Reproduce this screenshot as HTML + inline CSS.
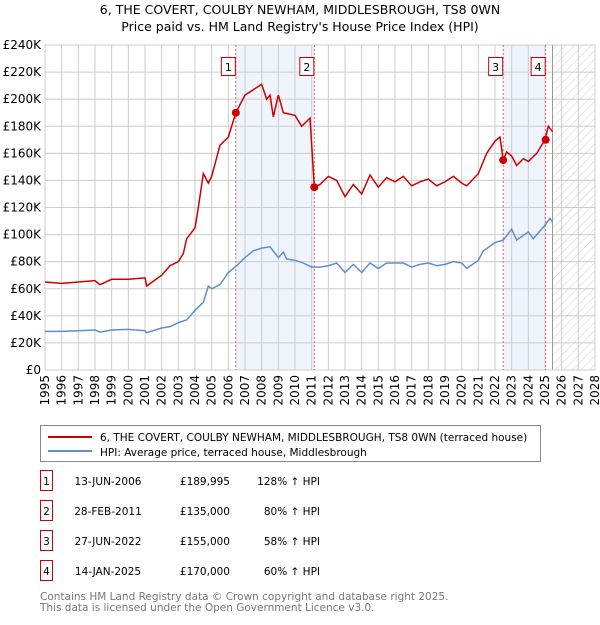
<!DOCTYPE html>
<html><head><meta charset="utf-8"><style>
body{margin:0;background:#fff;font-family:"Liberation Sans","DejaVu Sans",sans-serif;}
svg text{font-family:"DejaVu Sans","Liberation Sans",sans-serif;}
</style></head><body>
<svg id="c" width="600" height="620" viewBox="0 0 600 620" xmlns="http://www.w3.org/2000/svg">
<defs><pattern id="hatch" width="6" height="6" patternUnits="userSpaceOnUse" patternTransform="rotate(45)"><line x1="0" y1="0" x2="0" y2="6" stroke="#ccc" stroke-width="1"/></pattern></defs>
<text x="300" y="14" text-anchor="middle" font-size="12.5">6, THE COVERT, COULBY NEWHAM, MIDDLESBROUGH, TS8 0WN</text>
<text x="300" y="31" text-anchor="middle" font-size="12.5">Price paid vs. HM Land Registry's House Price Index (HPI)</text>
<g id="plot"></g>
<g>
<rect x="40.5" y="425.5" width="500" height="36" fill="#fff" stroke="#888"/>
<line x1="48" y1="437" x2="92" y2="437" stroke="#cc0000" stroke-width="2"/>
<text x="100" y="441" font-size="10.5">6, THE COVERT, COULBY NEWHAM, MIDDLESBROUGH, TS8 0WN (terraced house)</text>
<line x1="48" y1="451" x2="92" y2="451" stroke="#5b8fd0" stroke-width="2"/>
<text x="100" y="456" font-size="10.5">HPI: Average price, terraced house, Middlesbrough</text>
</g>
<g id="table" font-size="10.5"></g>
<text x="40" y="600" font-size="10.5" fill="#777">Contains HM Land Registry data © Crown copyright and database right 2025.</text>
<text x="40" y="611" font-size="10.5" fill="#777">This data is licensed under the Open Government Licence v3.0.</text>
</svg>
<script>
const hpiYears=[1995,1996,1997,1998,1998.3,1999,2000,2001,2001.1,2002,2002.5,2003,2003.5,2004,2004.5,2004.8,2005,2005.5,2006,2006.5,2007,2007.5,2008,2008.5,2009,2009.3,2009.5,2010,2010.5,2011,2011.5,2012,2012.5,2013,2013.5,2014,2014.5,2015,2015.5,2016,2016.5,2017,2017.5,2018,2018.5,2019,2019.5,2020,2020.3,2021,2021.3,2022,2022.5,2023,2023.3,2024,2024.3,2025,2025.3,2025.45];
const hpiValues=[28.5,28.5,29,29.5,28,29.5,30,29,27.5,31,32,35,37,44,50,62,60,63,72,77,83,88,90,91,83,87,82,81,79,76,76,77,79,72,78,72,79,75,79,79,79,76,78,79,77,78,80,79,75,81,88,94,96,104,96,102,97,107,112,109];
const priceYears=[1995,1996,1997,1998,1998.3,1999,2000,2001,2001.1,2002,2002.5,2003,2003.3,2003.5,2004,2004.2,2004.5,2004.8,2005,2005.5,2006,2006.45,2007,2007.5,2008,2008.3,2008.5,2008.7,2009,2009.3,2010,2010.4,2010.9,2011.16,2011.5,2012,2012.5,2013,2013.5,2014,2014.5,2015,2015.5,2016,2016.5,2017,2017.5,2018,2018.5,2019,2019.5,2020,2020.3,2021,2021.5,2022,2022.3,2022.49,2022.7,2023,2023.3,2023.7,2024,2024.5,2025,2025.2,2025.45];
const priceValues=[65,64,65,66,63,67,67,68,62,70,77,80,86,97,105,120,145,138,143,166,172,190,203,207,211,200,203,187,203,190,188,180,186,135,137,143,140,128,137,130,144,135,142,139,143,136,139,141,136,139,143,138,136,145,160,169,172,155,161,158,151,156,154,160,170,180,176];
const saleYears=[2006.45,2011.16,2022.49,2025.04];
const saleValues=[189.995,135,155,170];
const saleLabels=["1","2","3","4"];
const saleDates=["13-JUN-2006","28-FEB-2011","27-JUN-2022","14-JAN-2025"];
const salePrices=["£189,995","£135,000","£155,000","£170,000"];
const saleHpi=["128% ↑ HPI","80% ↑ HPI","58% ↑ HPI","60% ↑ HPI"];
const yTicks=[0,20,40,60,80,100,120,140,160,180,200,220,240];
const xStart=1995,xEnd=2028,dataEnd=2025.45;
const L=45,R=595,T=45,B=370;
const X=v=>L+(v-xStart)/(xEnd-xStart)*(R-L);
const Y=v=>B-v/240*(B-T);
const NS="http://www.w3.org/2000/svg";
const plot=document.getElementById('plot');
function mk(tag,attrs,parent){const e=document.createElementNS(NS,tag);for(const k in attrs)e.setAttribute(k,attrs[k]);(parent||plot).appendChild(e);return e;}
for(let i=0;i<saleYears.length;i+=2){
  const r=mk('rect',{x:X(saleYears[i]),y:T,width:X(saleYears[i+1])-X(saleYears[i]),height:B-T,fill:'#eef3fc'});
  
  
}
const h=mk('rect',{x:X(dataEnd),y:T,width:R-X(dataEnd),height:B-T,fill:'url(#hatch)'});


for(const t of yTicks){
  const l=mk('line',{x1:L,x2:R,y1:Y(t),y2:Y(t),stroke:'#ccc'});
  
  
  const tx=mk('text',{x:L-4,y:Y(t)+4,'text-anchor':'end','font-size':'12'});
  tx.textContent=t===0?'£0':'£'+t+'K';
  
  
}
for(let yr=xStart;yr<=xEnd;yr++){
  const l=mk('line',{x1:X(yr),x2:X(yr),y1:T,y2:B,stroke:'#ccc'});
  
  
  const tx=mk('text',{x:0,y:0,'text-anchor':'end','font-size':'12',transform:`translate(${X(yr)+4},${B+5}) rotate(-90)`});
  tx.textContent=yr;
  
  
}
const dl=mk('line',{x1:X(dataEnd),x2:X(dataEnd),y1:T,y2:B,stroke:'#999'});


const fr=mk('rect',{x:L,y:T,width:R-L,height:B-T,fill:'none',stroke:'#ccc'});


saleYears.forEach((s,i)=>{
  const l=mk('line',{x1:X(s),x2:X(s),y1:T,y2:B,stroke:'#e06060','stroke-dasharray':'2,2'});
  
  
  const g=mk('g',{});
  
  
  mk('rect',{x:X(s)-14.5,y:57.5,width:14,height:18,fill:'#fff',stroke:'#cc0000'},g);
  const t=mk('text',{x:X(s)-7.5,y:71,'text-anchor':'middle','font-size':'11'},g);
  t.textContent=saleLabels[i];
});
const hp=mk('polyline',{points:hpiYears.map((y,i)=>X(y)+','+Y(hpiValues[i])).join(' '),fill:'none',stroke:'#5b8fd0','stroke-width':'1.5'});


const pp=mk('polyline',{points:priceYears.map((y,i)=>X(y)+','+Y(priceValues[i])).join(' '),fill:'none',stroke:'#cc0000','stroke-width':'1.5'});


saleYears.forEach((s,i)=>{
  const c=mk('circle',{cx:X(s),cy:Y(saleValues[i]),r:4,fill:'#cc0000'});
  
  
});
const tb=document.getElementById('table');
saleLabels.forEach((lab,i)=>{
  const y=483+i*30;
  const g=mk('g',{},tb);
  
  
  mk('rect',{x:40.5,y:y-12.5,width:12,height:20,fill:'#fff',stroke:'#cc0000'},g);
  mk('text',{x:46.5,y:y+2,'text-anchor':'middle'},g).textContent=lab;
  mk('text',{x:108,y:y+2,'text-anchor':'middle'},g).textContent=saleDates[i];
  mk('text',{x:230,y:y+2,'text-anchor':'end'},g).textContent=salePrices[i];
  mk('text',{x:320,y:y+2,'text-anchor':'end'},g).textContent=saleHpi[i];
});
</script>
</body></html>
